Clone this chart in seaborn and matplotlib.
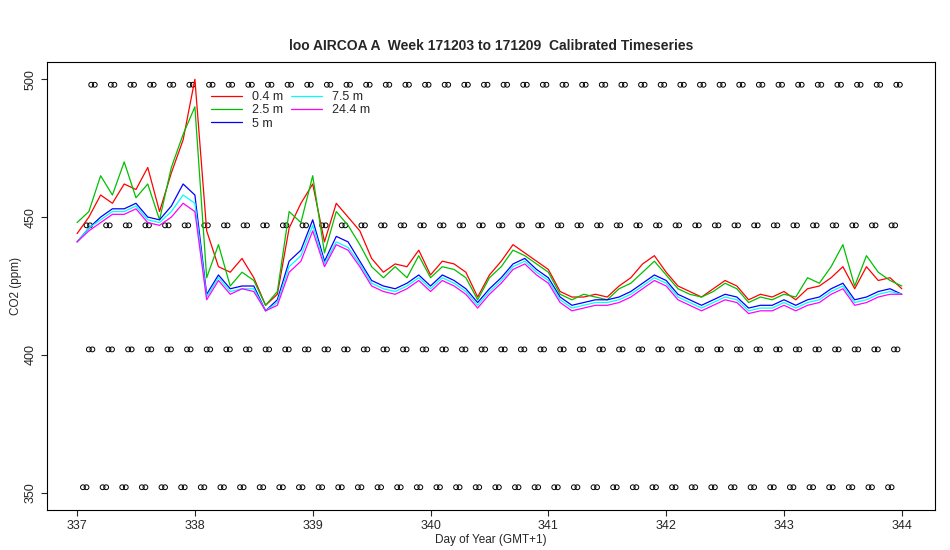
import numpy as np
import pandas as pd
import matplotlib
matplotlib.use("Agg")
import matplotlib.pyplot as plt
import seaborn as sns

# time grid: 337.0 .. 344.0 every 0.1 day
doy = [round(337 + i * 0.1, 1) for i in range(71)]

co2_24m = [441, 445, 448, 451, 451, 453, 448, 447, 450, 455, 452,
           420, 427, 422, 424, 423, 416, 418, 430, 434, 445,
           432, 440, 438, 432, 425, 423, 422, 424, 427, 423,
           427, 425, 422, 417, 422, 426, 431, 433, 429, 426,
           419, 416, 417, 418, 418, 419, 421, 424, 427, 425,
           420, 418, 416, 418, 420, 419, 415, 416, 416, 418,
           416, 418, 419, 422, 424, 418, 419, 421, 422, 422]
co2_7m = [441, 446, 449, 452, 452, 454, 449, 448, 452, 458, 455,
          421, 428, 423, 424, 424, 416, 419, 432, 436, 447,
          433, 441, 439, 433, 426, 424, 423, 425, 428, 424,
          428, 426, 423, 418, 423, 427, 432, 434, 430, 427,
          420, 417, 418, 419, 419, 420, 422, 425, 428, 426,
          421, 419, 417, 419, 421, 420, 416, 417, 417, 419,
          417, 419, 420, 423, 425, 419, 420, 422, 423, 422]
co2_5m = [441, 446, 450, 453, 453, 455, 450, 449, 454, 462, 458,
          422, 429, 424, 425, 425, 416, 420, 434, 438, 449,
          434, 443, 441, 434, 427, 425, 424, 426, 429, 425,
          429, 427, 424, 419, 424, 428, 433, 435, 431, 428,
          421, 418, 419, 420, 420, 421, 423, 426, 429, 427,
          422, 420, 418, 420, 422, 421, 417, 418, 418, 420,
          418, 420, 421, 424, 426, 420, 421, 423, 424, 422]
co2_2m = [448, 452, 465, 458, 470, 457, 462, 449, 468, 480, 490,
          428, 440, 425, 430, 427, 418, 423, 452, 448, 465,
          437, 452, 447, 440, 432, 428, 432, 428, 436, 428,
          432, 431, 428, 420, 428, 432, 438, 436, 433, 430,
          422, 420, 422, 421, 420, 424, 426, 430, 434, 429,
          424, 422, 421, 423, 426, 424, 419, 421, 420, 422,
          421, 428, 426, 432, 440, 425, 436, 430, 427, 425]
co2_04m = [444, 450, 458, 455, 462, 460, 468, 452, 466, 478, 500,
           445, 432, 430, 435, 428, 418, 422, 446, 455, 462,
           441, 455, 450, 445, 435, 430, 433, 432, 438, 429,
           434, 433, 430, 421, 429, 434, 440, 437, 434, 431,
           423, 421, 421, 422, 421, 425, 428, 433, 436, 430,
           425, 423, 421, 424, 427, 425, 420, 422, 421, 423,
           420, 424, 425, 428, 432, 424, 432, 427, 428, 424]

# calibration markers (4-hourly pairs)
cal_levels = [352, 402, 447, 498]
cal_starts = [337.05, 337.1, 337.08, 337.12]

series = [("0.4 m", co2_04m, "red"), ("2.5 m", co2_2m, "#00c000"),
          ("5 m", co2_5m, "blue"), ("7.5 m", co2_7m, "cyan"),
          ("24.4 m", co2_24m, "magenta")]

sns.set_style("white")
plt.rcParams['font.family'] = ['Arial', 'Liberation Sans', 'DejaVu Sans']

fig, ax = plt.subplots(figsize=(9.5, 5.5), dpi=100)
fig.subplots_adjust(left=0.0495, right=0.984, top=0.887, bottom=0.073)

for lvl, t0 in zip(cal_levels, cal_starts):
    t = np.arange(t0, 344.01, 1 / 6)
    xs = np.concatenate([t, t + 0.03])
    xs = xs[xs <= 344.0]
    ax.scatter(xs, [lvl] * len(xs), s=12, facecolors="none",
               edgecolors="black", linewidths=0.7, zorder=1)

for name, vals, col in series:
    df = pd.DataFrame({"doy": doy, "co2": vals})
    sns.lineplot(data=df, x="doy", y="co2", color=col, lw=0.9, ax=ax,
                 label=name, zorder=2)

ax.set_xlim(336.745, 344.28)
ax.set_ylim(343.8, 506.2)
ax.set_xticks(range(337, 345))
ax.set_yticks([350, 400, 450, 500])
ax.tick_params(axis="y", labelrotation=90)
for t in ax.get_yticklabels():
    t.set_va("center")
ax.tick_params(labelsize=9, length=4, direction="out", bottom=True, left=True)
ax.set_xlabel("Day of Year (GMT+1)", fontsize=8.5, labelpad=1)
ax.set_ylabel("CO2 (ppm)", fontsize=8.5, labelpad=2)
ax.set_title("loo AIRCOA A  Week 171203 to 171209  Calibrated Timeseries",
             fontsize=10, fontweight="bold", pad=9)
for s in ax.spines.values():
    s.set_color("black")
    s.set_linewidth(0.8)

ax.legend(ncol=2, loc="upper left", bbox_to_anchor=(0.175, 0.955), frameon=False,
          fontsize=9, handlelength=2.5, labelspacing=0.1, columnspacing=0.6,
          borderpad=0.2)

fig.savefig("out.png", dpi=100)
